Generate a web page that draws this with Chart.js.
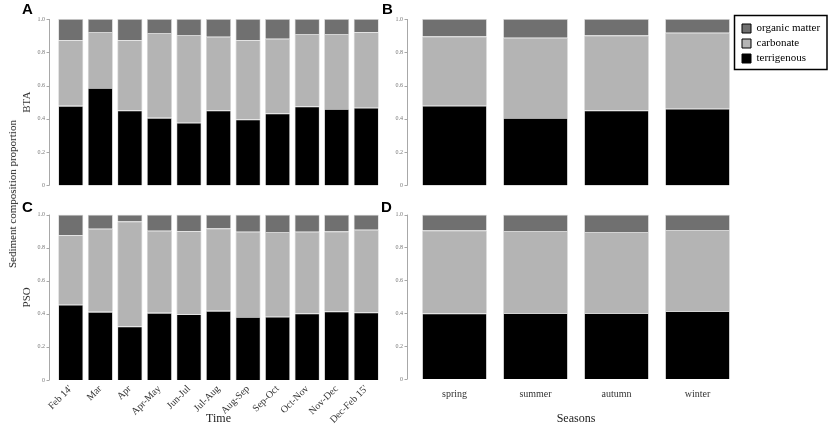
<html>
<head>
<script src="https://cdn.jsdelivr.net/npm/chart.js@4.4.3/dist/chart.umd.min.js"></script>
<style>
  body { margin: 0; background: #fff; width: 828px; height: 428px; position: relative; overflow: hidden; }
  canvas { position: absolute; }
  .lbl { position: absolute; font: bold 15px Arial, "Liberation Sans", sans-serif; color: #000; }
  #ylab { position: absolute; left: 12px; top: 194px; font: 11px "Liberation Serif", serif; color: #222;
          transform: translate(-50%, -50%) rotate(-90deg); white-space: nowrap; }
</style>
</head>
<body>
<canvas id="ca" width="381" height="200" style="left:0;top:0"></canvas>
<canvas id="cb" width="447" height="200" style="left:381px;top:0"></canvas>
<canvas id="cc" width="381" height="228" style="left:0;top:200px"></canvas>
<canvas id="cd" width="447" height="228" style="left:381px;top:200px"></canvas>
<div class="lbl" style="left:22px;top:0px">A</div>
<div class="lbl" style="left:382px;top:0px">B</div>
<div class="lbl" style="left:22px;top:198px">C</div>
<div class="lbl" style="left:381px;top:198px">D</div>
<div id="ylab">Sediment composition proportion</div>
<script>
// categories
var months = ["Feb 14'", "Mar", "Apr", "Apr-May", "Jun-Jul", "Jul-Aug", "Aug-Sep", "Sep-Oct", "Oct-Nov", "Nov-Dec", "Dec-Feb 15'"];
var seasons = ["spring", "summer", "autumn", "winter"];
var yTicks = [0, 0.2, 0.4, 0.6, 0.8, 1.0];

// BTA, by month
var btaTerr = [0.478, 0.586, 0.451, 0.406, 0.377, 0.451, 0.396, 0.432, 0.475, 0.459, 0.467];
var btaCarb = [0.395, 0.336, 0.422, 0.510, 0.527, 0.442, 0.477, 0.449, 0.435, 0.451, 0.453];
var btaOrg  = [0.127, 0.078, 0.127, 0.084, 0.096, 0.107, 0.127, 0.119, 0.090, 0.090, 0.080];
// PSO, by month
var psoTerr = [0.455, 0.412, 0.324, 0.406, 0.398, 0.418, 0.381, 0.383, 0.402, 0.414, 0.408];
var psoCarb = [0.420, 0.502, 0.635, 0.496, 0.502, 0.498, 0.515, 0.512, 0.494, 0.484, 0.500];
var psoOrg  = [0.125, 0.086, 0.041, 0.098, 0.100, 0.084, 0.104, 0.105, 0.104, 0.102, 0.092];
// BTA, by season
var btaSeaTerr = [0.479, 0.405, 0.450, 0.461];
var btaSeaCarb = [0.416, 0.483, 0.451, 0.456];
var btaSeaOrg  = [0.105, 0.112, 0.099, 0.083];
// PSO, by season
var psoSeaTerr = [0.399, 0.401, 0.401, 0.413];
var psoSeaCarb = [0.505, 0.499, 0.493, 0.493];
var psoSeaOrg  = [0.096, 0.100, 0.106, 0.094];

var serif = "'Liberation Serif', 'Times New Roman', serif";

// y axis sits a few px left of the bars, like in the figure
var offsetAxis = {
  id: 'offsetAxis',
  afterDraw: function(chart) {
    var ys = chart.scales.y, ctx = chart.ctx;
    var x = Math.round(chart.chartArea.left - 7) + 0.5;
    ctx.save();
    ctx.strokeStyle = '#a8a8a8';
    ctx.lineWidth = 1;
    ctx.beginPath();
    ctx.moveTo(x, ys.getPixelForValue(0));
    ctx.lineTo(x, ys.getPixelForValue(1));
    yTicks.forEach(function(t) {
      var p = Math.round(ys.getPixelForValue(t)) + 0.5;
      ctx.moveTo(x - 3, p);
      ctx.lineTo(x, p);
    });
    ctx.stroke();
    ctx.restore();
  }
};

// frame round the legend items only
var legendBox = {
  id: 'legendBox',
  afterDraw: function(chart) {
    var l = chart.legend;
    if (!l || !chart.options.plugins.legend.display || !l.legendHitBoxes.length) return;
    var hb = l.legendHitBoxes;
    var top = hb[0].top - 7.5, bot = hb[hb.length - 1].top + hb[hb.length - 1].height + 5.5;
    var left = hb[0].left - 7.5;
    var ctx = chart.ctx;
    ctx.save();
    ctx.strokeStyle = '#000';
    ctx.lineWidth = 1.5;
    ctx.strokeRect(left, top, chart.width - 1 - left, bot - top);
    ctx.restore();
  }
};

function makeChart(id, labels, terr, carb, org, opt) {
  var ds = function(label, data, color) {
    return { label: label, data: data, backgroundColor: color, borderColor: '#d4d4d4', borderWidth: 0.8,
             barPercentage: opt.barPct, categoryPercentage: 1 };
  };
  new Chart(document.getElementById(id), {
    type: 'bar',
    data: {
      labels: labels,
      datasets: [
        ds('terrigenous', terr, '#000000'),
        ds('carbonate', carb, '#b4b4b4'),
        ds('organic matter', org, '#707070')
      ]
    },
    options: {
      responsive: false,
      animation: false,
      layout: { padding: opt.pad },
      plugins: {
        tooltip: { enabled: false },
        legend: {
          display: !!opt.legend,
          position: 'right',
          align: 'start',
          reverse: true,
          maxWidth: 90,
          labels: {
            boxWidth: 9, boxHeight: 9, padding: 4, color: '#111',
            font: { family: serif, size: 11 },
            generateLabels: function(chart) {
              return chart.data.datasets.map(function(d, i) {
                return { text: d.label, fillStyle: d.backgroundColor, strokeStyle: '#000', lineWidth: 1, datasetIndex: i };
              });
            }
          }
        }
      },
      scales: {
        x: {
          stacked: true,
          display: opt.xShow,
          grid: { display: false, drawTicks: false },
          border: { display: false },
          ticks: { color: '#333', font: { family: serif, size: opt.xFont }, padding: opt.xPad,
                   minRotation: opt.rot, maxRotation: opt.rot, autoSkip: false },
          title: { display: !!opt.xTitle, text: opt.xTitle, color: '#222', font: { family: serif, size: 12 },
                   padding: { top: 0, bottom: 2 } },
          afterFit: function(s) { s.height = opt.xH; }
        },
        y: {
          stacked: true,
          min: 0, max: 1,
          grid: { display: false, drawTicks: false },
          border: { display: false },
          afterBuildTicks: function(s) { s.ticks = yTicks.map(function(v) { return { value: v }; }); },
          ticks: { color: '#777', font: { family: serif, size: 6 }, padding: 11,
                   callback: function(v) { return v === 0 ? '0' : v.toFixed(1); } },
          title: { display: !!opt.yTitle, text: opt.yTitle, color: '#333', font: { family: serif, size: 11 },
                   padding: { top: 21, bottom: 0 } },
          afterFit: function(s) { s.width = opt.yW; }
        }
      }
    },
    plugins: [offsetAxis, legendBox]
  });
}

makeChart('ca', months, btaTerr, btaCarb, btaOrg,
  { barPct: 0.85, pad: { top: 19, bottom: 11, left: 0, right: 0 }, xShow: false, xH: 0, yW: 56, yTitle: 'BTA', rot: 0, xFont: 9, xPad: 0 });
makeChart('cc', months, psoTerr, psoCarb, psoOrg,
  { barPct: 0.85, pad: { top: 9, bottom: 0, left: 0, right: 0 }, xShow: true, xH: 48, yW: 56, yTitle: 'PSO', xTitle: 'Time', rot: 45, xFont: 10, xPad: 3 });
makeChart('cb', seasons, btaSeaTerr, btaSeaCarb, btaSeaOrg,
  { barPct: 0.8, pad: { top: 19, bottom: 9, left: 0, right: 0 }, xShow: false, xH: 0, yW: 33, legend: true, rot: 0, xFont: 10, xPad: 0 });
makeChart('cd', seasons, psoSeaTerr, psoSeaCarb, psoSeaOrg,
  { barPct: 0.8, pad: { top: 9, bottom: 0, left: 0, right: 90 }, xShow: true, xH: 49, yW: 33, xTitle: 'Seasons', rot: 0, xFont: 10, xPad: 9 });
</script>
</body>
</html>
